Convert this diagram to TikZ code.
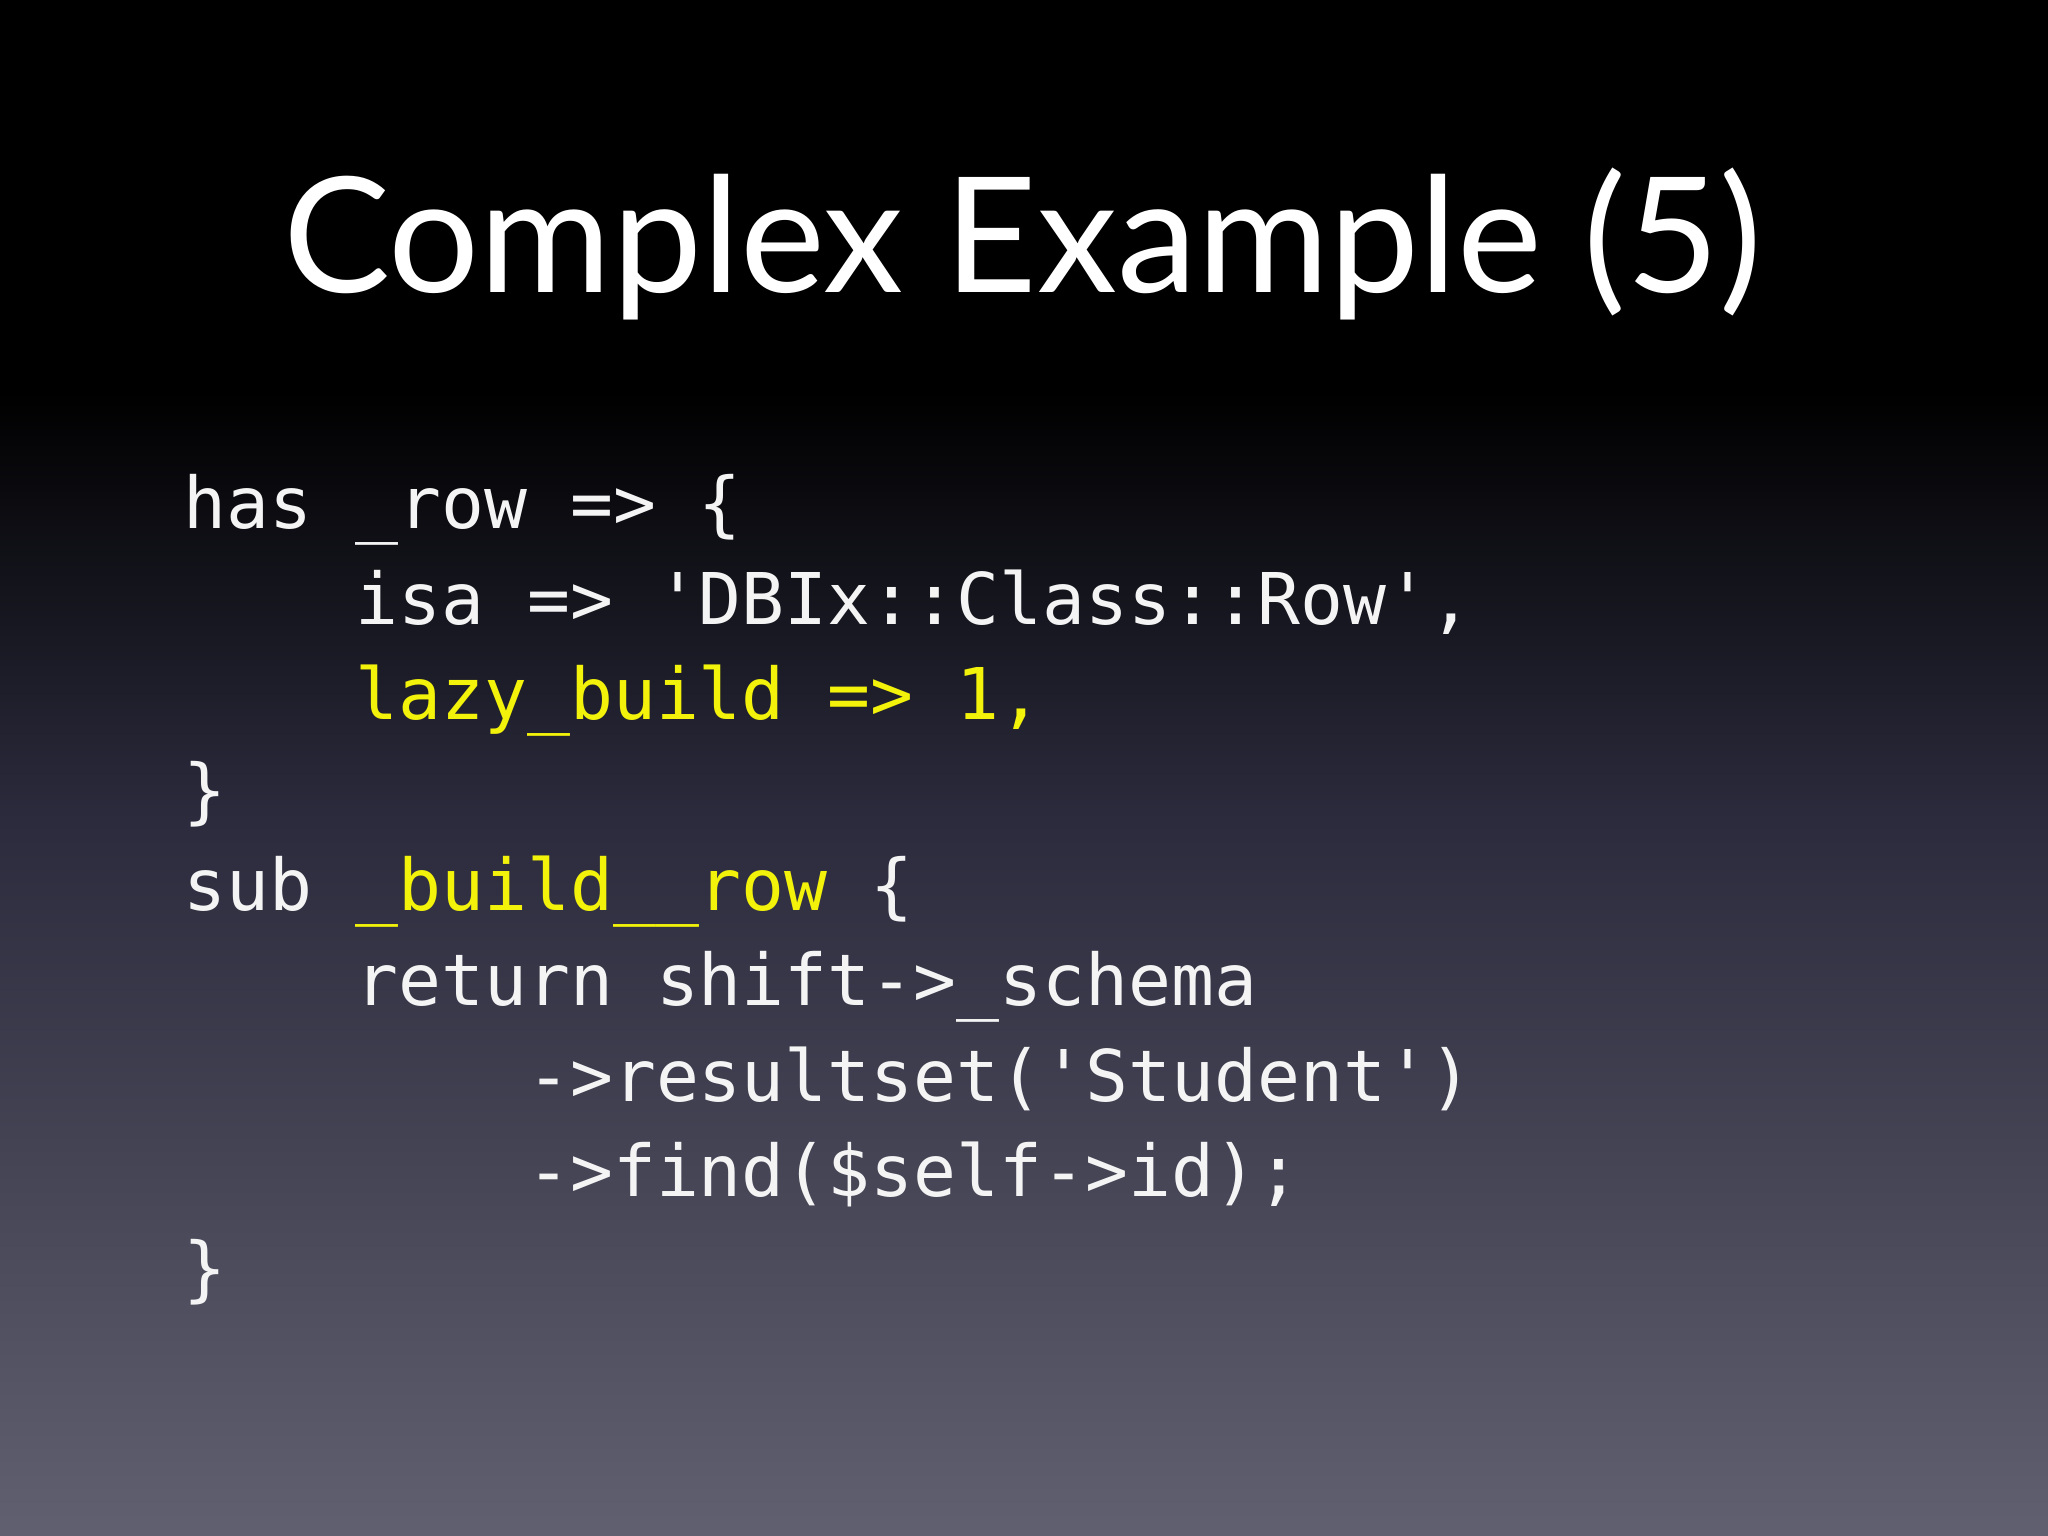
\documentclass[tikz,border=0pt]{standalone}
\usepackage{fontspec}
\setmainfont{Lato}
\setmonofont{DejaVu Sans Mono}
\definecolor{bgbot}{HTML}{616070}
\definecolor{bgmid}{HTML}{2a2a3c}
\definecolor{codey}{HTML}{F2F20A}
\definecolor{codew}{HTML}{F4F4F4}
\begin{document}
\begin{tikzpicture}[x=0.013061cm,y=-0.013061cm,
  code/.style={anchor=base west,inner sep=0,text=codew,font=\fontsize{20.3pt}{24pt}\ttfamily},
  ttl/.style={anchor=base,inner sep=0,text=white,font=\fontsize{45.7pt}{54pt}\selectfont}]
\useasboundingbox (0,0) rectangle (1568,1176);
\fill[black] (0,0) rectangle (1568,300);
\shade[top color=black,bottom color=bgmid] (0,299) rectangle (1568,620);
\shade[top color=bgmid,bottom color=bgbot] (0,619) rectangle (1568,1176);
\node[ttl] (title) at (783,224) {Complex Example (5)};
\node[code] (l1) at (140,405) {has \_row => \{};
\node[code] (l2) at (140,478) {\ \ \ \ isa => 'DBIx::Class::Row',};
\node[code,text=codey] (l3) at (140,551) {\ \ \ \ lazy\_build => 1,};
\node[code] (l4) at (140,624) {\}};
\node[code] (l5) at (140,697) {sub \textcolor{codey}{\_build\_\_row} \{};
\node[code] (l6) at (140,770) {\ \ \ \ return shift->\_schema};
\node[code] (l7) at (140,843) {\ \ \ \ \ \ \ \ ->resultset('Student')};
\node[code] (l8) at (140,916) {\ \ \ \ \ \ \ \ ->find(\$self->id);};
\node[code] (l9) at (140,990) {\}};
\end{tikzpicture}
\end{document}
